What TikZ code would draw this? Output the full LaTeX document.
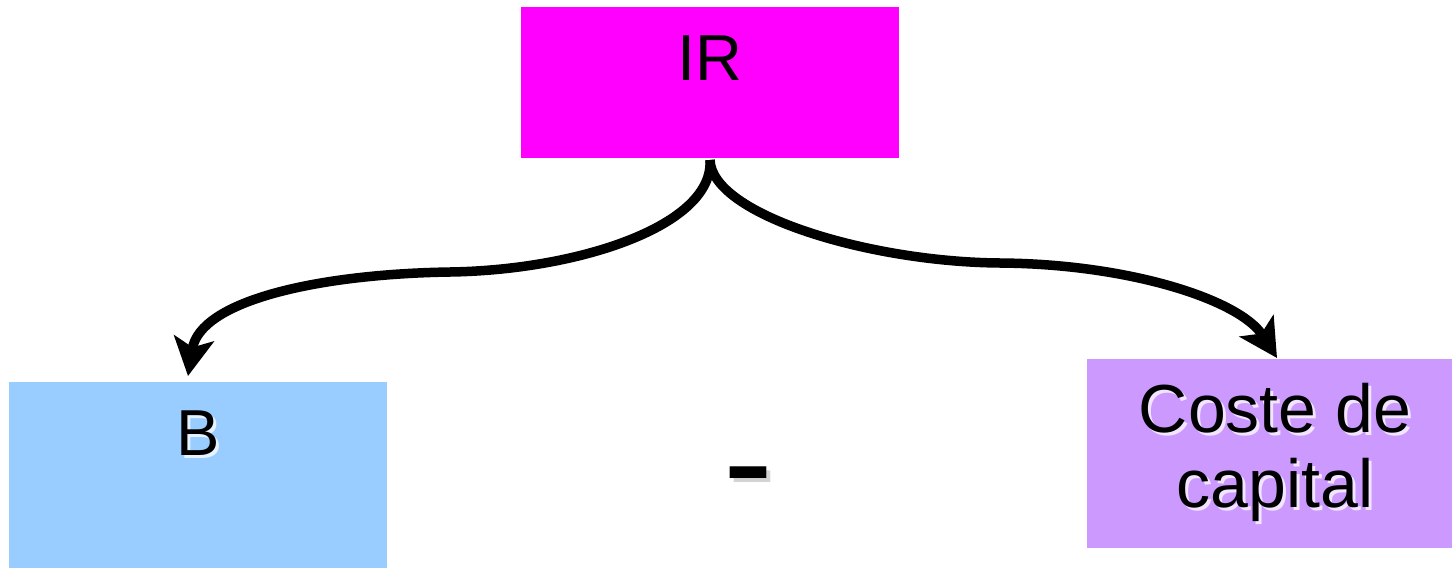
\documentclass[tikz,border=0pt]{standalone}
\usepackage{fontspec}
\setmainfont{Liberation Sans}
\usetikzlibrary{arrows.meta}
\definecolor{irmag}{HTML}{FF00FF}
\definecolor{bblue}{HTML}{99CCFF}
\definecolor{cpurp}{HTML}{CC99FF}
\begin{document}
\begin{tikzpicture}[x=1pt,y=-1pt,
  lbl/.style={inner sep=0pt,anchor=base,align=center},
  shd/.style={lbl,text=white,opacity=0.75},
  big/.style={font=\fontsize{65}{78}\selectfont},
  mid/.style={font=\fontsize{68}{75}\selectfont},
  huge/.style={font=\fontsize{150}{150}\selectfont},
  conn/.style={line width=9.5pt,-{Stealth[length=38pt,width=40pt,inset=9pt]}}]
\useasboundingbox (0,0) rectangle (1452,568);
% boxes
\fill[irmag] (521,7) rectangle (899,158);
\fill[bblue] (9,382) rectangle (387,568);
\fill[cpurp] (1087,359) rectangle (1452,548);
% texts
\node[lbl,big] (ir) at (710,80) {IR};
\node[shd,big] at (201,458) {B};
\node[lbl,big] (b) at (198,455) {B};
\node[shd,mid] at (1278,510) {Coste de\\capital};
\node[lbl,mid] (c) at (1275,507) {Coste de\\capital};
\node[lbl,huge,text=gray,opacity=0.35] at (752,516) {-};
\node[lbl,huge] (m) at (748,512) {-};
% connector ends
\coordinate (irs) at (710,160);
\coordinate (bt) at (188,376);
\coordinate (ct) at (1277,358);
% connectors
\draw[conn] (irs) .. controls (714,225) and (580,270) .. (450,272)
  .. controls (320,274) and (200,300) .. (bt);
\draw[conn] (irs) .. controls (712,215) and (870,262) .. (1000,263)
  .. controls (1130,264) and (1240,300) .. (ct);
\end{tikzpicture}
\end{document}
